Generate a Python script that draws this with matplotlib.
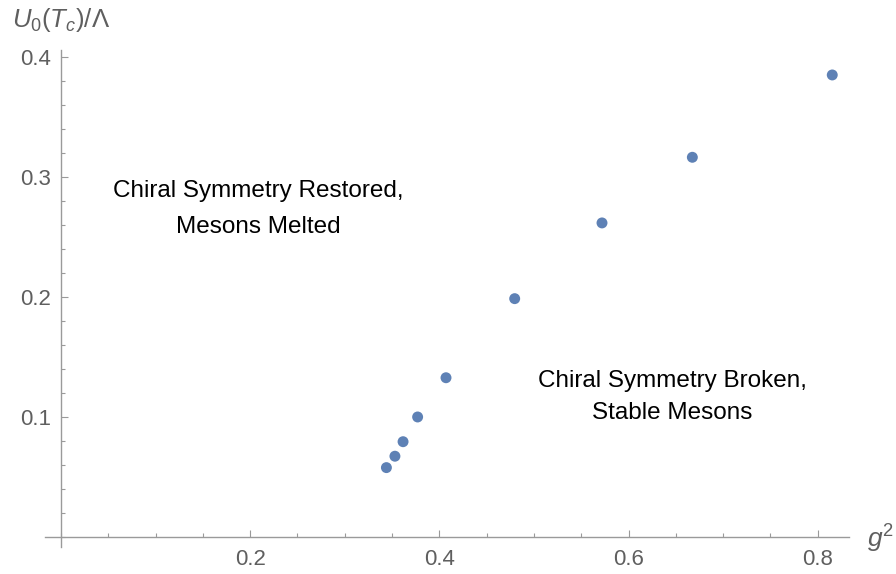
import numpy as np
import matplotlib.pyplot as plt
from matplotlib.ticker import MultipleLocator, FixedLocator

plt.rcParams['font.family'] = ['Liberation Sans', 'DejaVu Sans']
plt.rcParams['mathtext.fontset'] = 'custom'
plt.rcParams['mathtext.rm'] = 'Liberation Sans'
plt.rcParams['mathtext.it'] = 'Liberation Sans:italic'

# values
g2 = [0.344, 0.353, 0.3616, 0.377, 0.407, 0.4796, 0.5719, 0.6674, 0.8153]
u0 = [0.0578, 0.0673, 0.0794, 0.100, 0.1327, 0.1986, 0.2617, 0.3164, 0.385]

x_ticks = [0.2, 0.4, 0.6, 0.8]
y_ticks = [0.1, 0.2, 0.3, 0.4]

AXIS_GRAY = '#9a9a9a'
LABEL_GRAY = '#5f5f5f'

fig = plt.figure(figsize=(8.96, 5.74), dpi=100)
ax = fig.add_axes([45 / 896, 1 - 546.7 / 574, 804 / 896, 496.7 / 574])

ax.scatter(g2, u0, s=62, color='#5E81B5', edgecolor='none', zorder=3)

ax.set_xlim(-0.0169, 0.833)
ax.set_ylim(-0.0081, 0.4058)

# axes crossing at the origin, mathematica style
for side in ['top', 'right']:
    ax.spines[side].set_visible(False)
for side in ['left', 'bottom']:
    ax.spines[side].set_position(('data', 0))
    ax.spines[side].set_color(AXIS_GRAY)
    ax.spines[side].set_linewidth(1.0)
ax.spines['left'].set_bounds(-0.0081, 0.4058)
ax.spines['bottom'].set_bounds(-0.0169, 0.833)

ax.xaxis.set_major_locator(FixedLocator(x_ticks))
ax.yaxis.set_major_locator(FixedLocator(y_ticks))
ax.xaxis.set_minor_locator(MultipleLocator(0.05))
ax.yaxis.set_minor_locator(MultipleLocator(0.02))
ax.set_xticklabels([f'{v:.1f}' for v in x_ticks])
ax.set_yticklabels([f'{v:.1f}' for v in y_ticks])

ax.tick_params(which='both', direction='in', color=AXIS_GRAY, width=0.8,
               labelcolor=LABEL_GRAY, labelsize=16)
ax.tick_params(which='major', length=5)
ax.tick_params(which='minor', length=3)
ax.tick_params(axis='x', pad=9)
ax.tick_params(axis='y', pad=7)

# axis labels
fig.text(12 / 896, 1 - 20 / 574, r'$U_0(T_c)/\Lambda$', ha='left', va='center',
         fontsize=18.5, color=LABEL_GRAY)
fig.text(867 / 896, 1 - 539 / 574, r'$g^2$', ha='left', va='center',
         fontsize=19, color=LABEL_GRAY)

# region labels
ax.text(0.2085, 0.2733, 'Chiral Symmetry Restored,\nMesons Melted',
        ha='center', va='center', fontsize=17.5, linespacing=1.78, color='black')
ax.text(0.6465, 0.1163, 'Chiral Symmetry Broken,\nStable Mesons',
        ha='center', va='center', fontsize=17.5, linespacing=1.58, color='black')

fig.savefig('out.png', dpi=100)
